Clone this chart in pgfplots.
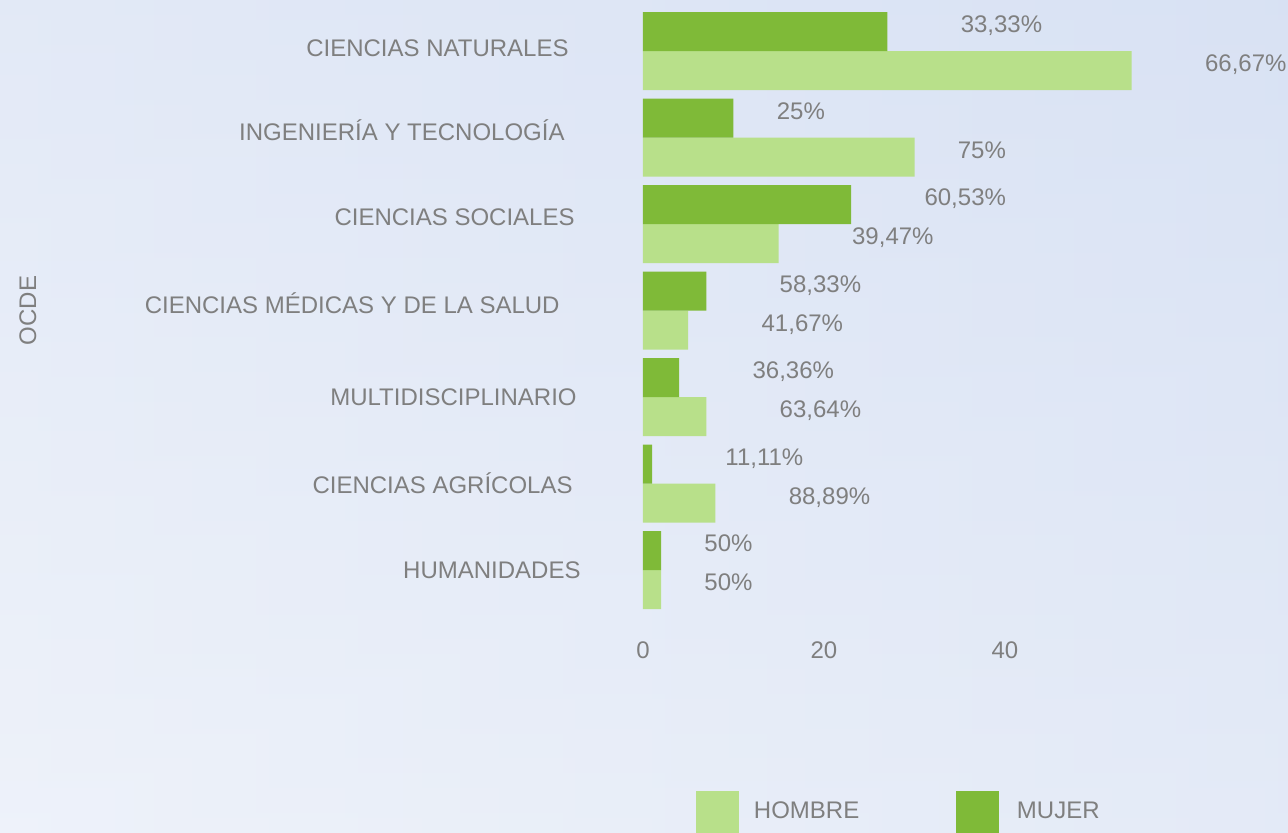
\documentclass[border=0pt]{standalone}
\usepackage{fontspec}
\setmainfont{Liberation Sans}
\usepackage{pgfplots}
\pgfplotsset{compat=1.18}
\usepackage{pgfplotstable}
\definecolor{mujer}{HTML}{7FBA38}
\definecolor{hombre}{HTML}{B8E08A}
\definecolor{txt}{HTML}{7F7F7F}
\definecolor{bgA}{HTML}{D2DDF2}
\definecolor{bgB}{HTML}{EEF2FA}

% MUJER, labels with six characters
\pgfplotstableread{
y x lab
6 27 33,33
4 23 60,53
3 7 58,33
2 4 36,36
1 1 11,11
}\mujerA
% MUJER, short labels
\pgfplotstableread{
y x lab
5 10 25
0 2 50
}\mujerB
% HOMBRE, labels with six characters
\pgfplotstableread{
y x lab
6 54 66,67
4 15 39,47
3 5 41,67
2 7 63,64
1 8 88,89
}\hombreA
% HOMBRE, short labels
\pgfplotstableread{
y x lab
5 30 75
0 2 50
}\hombreB

\begin{document}
\begin{tikzpicture}[font=\fontsize{12pt}{14.4pt}\selectfont]
\shade[top color=bgA, bottom color=bgB] (-321.5pt,-109.375pt) rectangle (322.5pt,306.625pt);
\shade[left color=bgB, right color=bgB!40!bgA, opacity=0.6] (-321.5pt,-109.375pt) rectangle (322.5pt,306.625pt);
\begin{axis}[
  scale only axis,
  width=244.35pt, height=302.75pt,
  xmin=0, xmax=54, ymin=-0.5, ymax=6.5,
  xbar, bar width=19.5pt,
  clip=false,
  axis line style={draw=none},
  major tick length=0pt,
  xtick={0,20,40},
  ytick={0,...,6},
  yticklabels={\raisebox{0.25pt}{HUMANIDADES},
    \raisebox{-0.9pt}{CIENCIAS AGRÍCOLAS\hspace*{4pt}},
    \raisebox{-0.1pt}{MULTIDISCIPLINARIO\hspace*{2pt}},
    \raisebox{2.9pt}{CIENCIAS MÉDICAS Y DE LA SALUD\hspace*{10.5pt}},
    \raisebox{3.5pt}{CIENCIAS SOCIALES\hspace*{3pt}},
    \raisebox{2.9pt}{INGENIERÍA Y TECNOLOGÍA\hspace*{8pt}},
    \raisebox{1.5pt}{CIENCIAS NATURALES\hspace*{6pt}}},
  /pgf/number format/assume math mode=true,
  tick label style={text=txt, font=\fontsize{12pt}{14.4pt}\selectfont},
  yticklabel style={anchor=base east, inner sep=0pt, xshift=-31pt, yshift=-4.3pt},
  xticklabel style={anchor=base, inner sep=0pt, yshift=-22.7pt},
  ylabel={OCDE},
  ylabel style={at={(axis description cs:-1.2585,0.5)}, rotate=0, anchor=center, text=txt},
  point meta=explicit symbolic,
  nodes near coords={\pgfplotspointmeta\%},
  every node near coord/.append style={anchor=base west, inner sep=0pt, yshift=-0.5pt, text=txt, font=\fontsize{12pt}{14.4pt}\selectfont},
  longlab/.style={every node near coord/.append style={xshift=36.5pt}},
  shortlab/.style={every node near coord/.append style={xshift=21.5pt}},
  legend columns=2,
  legend cell align=left,
  legend style={at={(axis description cs:0.10845,-0.3283)}, anchor=west, draw=none, fill=none,
    inner sep=0pt, outer sep=0pt, column sep=0pt, row sep=0pt,
    nodes={inner sep=0pt, text=txt}},
  leg/.style={legend image code/.code={\fill[##1] (0pt,-10.75pt) rectangle (21.5pt,10.75pt);}},
]
\addplot[fill=hombre, draw=none, bar shift=-9.75pt, leg, longlab] table[x=x, y=y, meta=lab]{\hombreA};
\addlegendentry{\hspace*{7.5pt}\makebox[101pt][l]{HOMBRE}}
\addplot[fill=hombre, draw=none, bar shift=-9.75pt, shortlab, forget plot] table[x=x, y=y, meta=lab]{\hombreB};
\addplot[fill=mujer, draw=none, bar shift=9.75pt, leg, longlab] table[x=x, y=y, meta=lab]{\mujerA};
\addlegendentry{\hspace*{9pt}\makebox[101pt][l]{MUJER}}
\addplot[fill=mujer, draw=none, bar shift=9.75pt, shortlab, forget plot] table[x=x, y=y, meta=lab]{\mujerB};
\end{axis}
\pgfresetboundingbox
\useasboundingbox (-321.5pt,-109.375pt) rectangle (322.5pt,306.625pt);
\end{tikzpicture}
\end{document}
